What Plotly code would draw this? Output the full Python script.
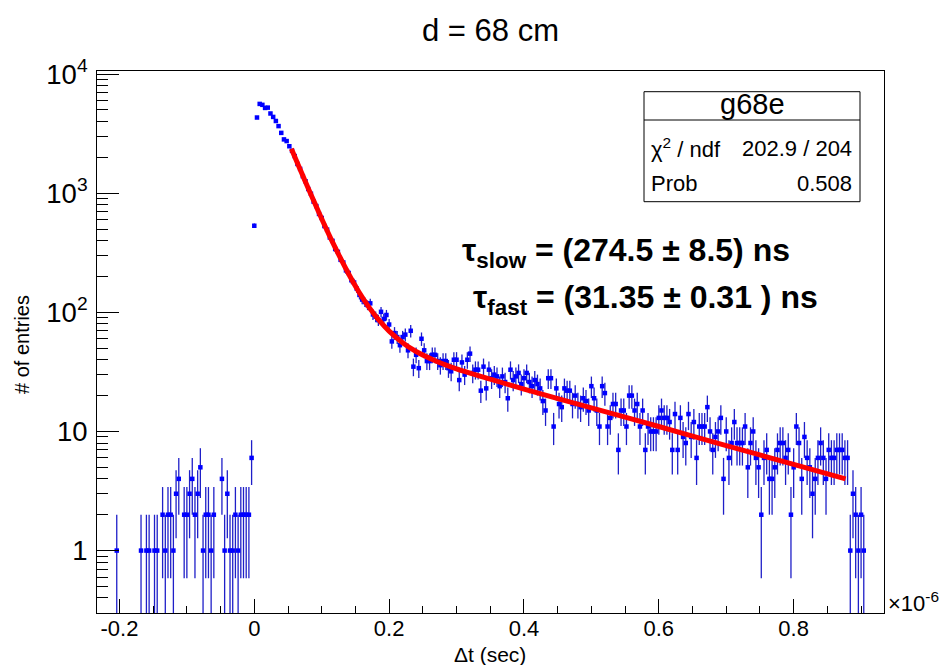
import numpy as np
import plotly.graph_objects as go

# ---------------- data ----------------
BIN_WIDTH = 0.004  # microseconds per histogram bin

# sparse, non-empty bins before t = 0 (bin index, counts)
neg_bins = [-51, -42, -40, -39, -37, -36, -34, -33, -32, -31, -30, -29, -28,
            -26, -25, -24, -23, -22, -21, -20, -19, -18, -17, -16, -15,
            -12, -11, -10, -9, -8, -7, -6, -5, -4, -3, -2, -1]
neg_counts = [1, 1, 1, 1, 1, 1, 2, 1, 2, 2, 1, 3, 4,
              2, 2, 3, 4, 2, 3, 5, 1, 2, 2, 1, 2,
              4, 1, 3, 1, 1, 2, 1, 2, 2, 2, 2, 6]

# consecutive bins starting at t = 0
pos_counts = [
    533, 4320, 5620, 5520, 5200, 5230, 4670, 4370, 4040, 3660,
    3210, 2830, 2740, 2480, 2270, 2050, 1760, 1600, 1390, 1260,
    1085, 990, 850, 780, 670, 620, 530, 495, 425, 398,
    340, 322, 276, 262, 225, 214, 186, 178, 158, 140,
    128, 122, 115, 119, 96, 92, 86, 101, 88, 95,
    79, 57, 67, 62, 53, 62, 65, 48, 70, 35,
    44, 34, 60, 48, 39, 39, 44, 44, 39, 36,
    39, 39, 34, 32, 40, 40, 27, 38, 30, 40,
    45, 31, 33, 33, 22, 35, 23, 33, 28, 30,
    29, 24, 29, 26, 19, 33, 27, 29, 31, 25,
    28, 31, 26, 24, 27, 25, 23, 18, 15, 28,
    28, 11, 23, 17, 16, 23, 22, 22, 17, 20,
    17, 16, 19, 18, 15, 24, 19, 15, 11, 24,
    21, 11, 13, 17, 17, 7, 15, 15, 11, 20,
    20, 15, 17, 11, 15, 7, 11, 10, 10, 10,
    13, 15, 13, 13, 12, 7, 14, 7, 13, 9,
    8, 14, 9, 12, 6, 11, 11, 11, 16, 10,
    7, 9, 10, 13, 4, 10, 6, 8, 12, 8,
    8, 8, 11, 5, 8, 10, 6, 5, 2, 6,
    7, 4, 4, 5, 7, 8, 8, 6, 7, 2,
    5, 11, 8, 4, 9, 6, 5, 3, 4, 6,
    8, 6, 4, 7, 6, 6, 7, 7, 7, 6,
    6, 1, 3, 2, 1, 2, 1,
]

# fitted curve
fit_t = [0.055, 0.065, 0.075, 0.085, 0.095, 0.105, 0.115, 0.125, 0.14, 0.155,
         0.17, 0.185, 0.2, 0.22, 0.24, 0.27, 0.3, 0.35, 0.4, 0.5,
         0.6, 0.7, 0.8, 0.877]
fit_y = [2361, 1735, 1279, 948, 706, 529, 400, 307, 210, 149,
         110.7, 85.9, 69.5, 55.6, 46.9, 38.9, 33.6, 27.5, 22.7, 15.8,
         11.0, 7.6, 5.3, 4.0]

x_tickvals = [-0.2, 0, 0.2, 0.4, 0.6, 0.8]
x_ticktext = ["-0.2", "0", "0.2", "0.4", "0.6", "0.8"]

title_text = "d = 68 cm"
stats_name = "g68e"
stats_rows = [("χ<sup>2</sup> / ndf", "202.9 / 204"), ("Prob", "0.508")]
tau_lines = ["<b>τ<sub>slow</sub> = (274.5 ± 8.5) ns</b>",
             "<b>τ<sub>fast</sub> = (31.35 ± 0.31 ) ns</b>"]

# ---------------- derived histogram arrays ----------------
t = np.concatenate([np.array(neg_bins) * BIN_WIDTH,
                    np.arange(len(pos_counts)) * BIN_WIDTH])
n = np.concatenate([np.array(neg_counts, float), np.array(pos_counts, float)])
keep = n > 0
t, n = t[keep], n[keep]
err_hi = np.sqrt(n)
err_lo = np.minimum(err_hi, n * 0.999)

# ---------------- layout geometry (pixels) ----------------
W, H = 940, 665
L, R, T, B = 97, 884, 71, 613
FONT = "Liberation Sans, Arial, Helvetica, sans-serif"


def px(x):
    return (x - L) / (R - L)


def py(y):
    return (B - y) / (B - T)


fig = go.Figure()
fig.add_trace(go.Scatter(
    x=t, y=n, mode="markers",
    marker=dict(symbol="square", size=4.5, color="#0000ff", line=dict(width=0)),
    error_y=dict(type="data", array=err_hi, arrayminus=err_lo, symmetric=False,
                 color="#1f1fc8", thickness=1.3, width=0),
    showlegend=False, hoverinfo="x+y",
))
fig.add_trace(go.Scatter(
    x=fit_t, y=fit_y, mode="lines",
    line=dict(color="#ff0000", width=5, shape="spline", smoothing=0.8),
    showlegend=False, hoverinfo="skip",
))

fig.update_layout(
    width=W, height=H,
    margin=dict(l=L, r=W - R, t=T, b=H - B, pad=0),
    paper_bgcolor="white", plot_bgcolor="white",
    font=dict(family=FONT, color="black", size=21),
    xaxis=dict(
        range=[-0.2333, 0.934], tickmode="array", tickvals=x_tickvals, ticktext=x_ticktext,
        ticks="inside", ticklen=14, tickwidth=1, tickcolor="black",
        minor=dict(ticks="inside", ticklen=7, tickwidth=1, tickcolor="black",
                   dtick=0.05, tick0=0, showgrid=False),
        showline=True, linecolor="black", linewidth=1, mirror=True,
        showgrid=False, zeroline=False, tickfont=dict(size=22),
        ticklabelstandoff=-4,
    ),
    yaxis=dict(
        type="log", range=[-0.524, 4.026], dtick=1, tick0=0, exponentformat="power",
        ticks="inside", ticklen=22, tickwidth=1, tickcolor="black",
        minor=dict(ticks="inside", ticklen=11, tickwidth=1, tickcolor="black",
                   dtick="D1", showgrid=False),
        showline=True, linecolor="black", linewidth=1, mirror=True,
        showgrid=False, zeroline=False, tickfont=dict(size=22),
        ticklabelstandoff=4,
    ),
)

ann = []
ann.append(dict(text=title_text, x=px(490), y=py(30), xref="paper", yref="paper",
                showarrow=False, xanchor="center", yanchor="middle",
                font=dict(size=31)))
ann.append(dict(text="Δt (sec)", x=px(490), y=py(654), xref="paper", yref="paper",
                showarrow=False, xanchor="center", yanchor="middle",
                font=dict(size=21)))
ann.append(dict(text="# of entries", x=px(22), y=py(345), xref="paper", yref="paper",
                showarrow=False, xanchor="center", yanchor="middle", textangle=-90,
                font=dict(size=20)))
ann.append(dict(text="×10<sup>-6</sup>", x=px(886), y=py(602), xref="paper", yref="paper",
                showarrow=False, xanchor="left", yanchor="middle",
                font=dict(size=22)))
# stats box
ann.append(dict(text=stats_name, x=px(752), y=py(104), xref="paper", yref="paper",
                showarrow=False, xanchor="center", yanchor="middle",
                font=dict(size=29)))
for i, (lab, val) in enumerate(stats_rows):
    yy = [148, 183][i]
    ann.append(dict(text=lab, x=px(649), y=py(yy), xref="paper", yref="paper",
                    showarrow=False, xanchor="left", yanchor="middle",
                    font=dict(size=22)))
    ann.append(dict(text=val, x=px(854), y=py(yy), xref="paper", yref="paper",
                    showarrow=False, xanchor="right", yanchor="middle",
                    font=dict(size=22)))
# fit result labels
ann.append(dict(text=tau_lines[0], x=px(460), y=py(252), xref="paper", yref="paper",
                showarrow=False, xanchor="left", yanchor="middle",
                font=dict(size=32)))
ann.append(dict(text=tau_lines[1], x=px(471), y=py(299), xref="paper", yref="paper",
                showarrow=False, xanchor="left", yanchor="middle",
                font=dict(size=32)))
fig.update_layout(annotations=ann)

fig.add_shape(type="rect", xref="paper", yref="paper",
              x0=px(644), x1=px(860), y0=py(201.7), y1=py(91.7),
              line=dict(color="black", width=1), fillcolor="white", layer="above")
fig.add_shape(type="line", xref="paper", yref="paper",
              x0=px(644), x1=px(860), y0=py(120), y1=py(120),
              line=dict(color="black", width=1), layer="above")

fig.write_html("out.html")
